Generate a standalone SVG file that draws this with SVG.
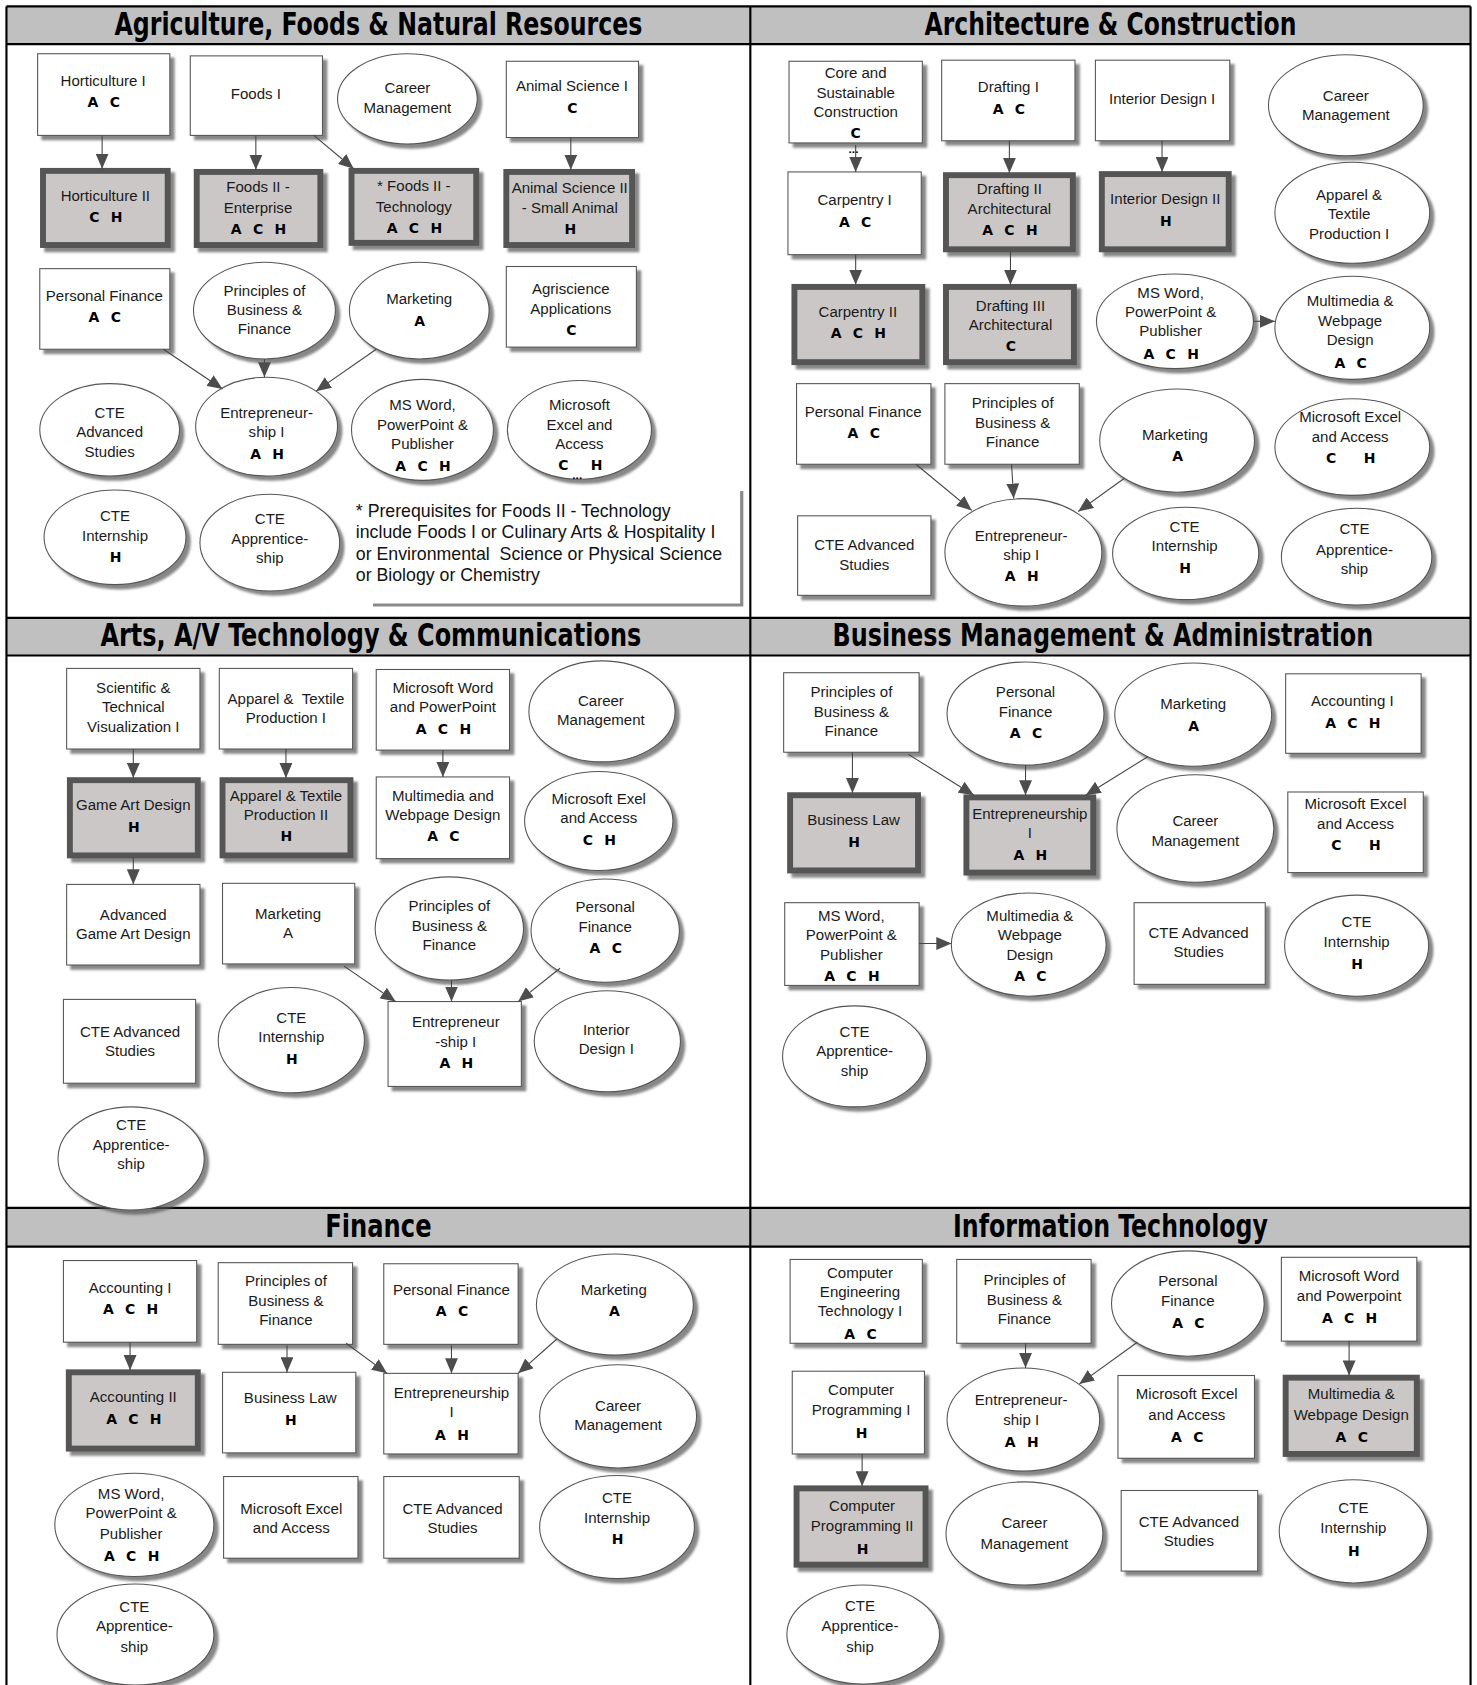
<svg xmlns="http://www.w3.org/2000/svg" width="1477" height="1685" viewBox="0 0 1477 1685">
<defs>
<filter id="sh" x="-10%" y="-10%" width="130%" height="130%">
<feDropShadow dx="4" dy="4" stdDeviation="1.2" flood-color="#555" flood-opacity="0.7"/>
</filter>
<marker id="ah" viewBox="0 0 14 12" refX="14" refY="6" markerWidth="14" markerHeight="12" markerUnits="userSpaceOnUse" orient="auto">
<path d="M0,0 L14,6 L0,12 z" fill="#4d4d4d"/>
</marker>
<style>
.box{fill:#fff;stroke:#555;stroke-width:1;filter:url(#sh)}
.gbox{fill:#cbc7c6;stroke:#555;stroke-width:5.5;filter:url(#sh)}
.ell{fill:#fff;stroke:#555;stroke-width:1;filter:url(#sh)}
.t{font-family:"Liberation Sans",Arial,sans-serif;font-size:14px;fill:#1a1a1a;text-anchor:middle}
.c{font-family:"DejaVu Sans","Liberation Sans",Arial,sans-serif;font-weight:bold;font-size:13px;letter-spacing:3px;text-anchor:middle;fill:#000;white-space:pre}
.c1{font-family:"DejaVu Sans","Liberation Sans",Arial,sans-serif;font-weight:bold;font-size:13px;text-anchor:middle;fill:#000}
.dots{font-family:"Liberation Sans",Arial,sans-serif;font-weight:bold;font-size:11px;fill:#000;text-anchor:middle}
.note{font-family:"Liberation Sans",Arial,sans-serif;font-size:16.5px;fill:#111}
.hdr{fill:#c0c0c0}
.frame{stroke:#000;stroke-width:2;fill:none}
.ttl{font-family:"Liberation Sans Narrow","DejaVu Sans Condensed","Liberation Sans",sans-serif;font-weight:bold;font-size:29px;fill:#000;text-anchor:middle}
.cn{stroke:#444;stroke-width:1;fill:none;marker-end:url(#ah)}
</style>
</defs>
<rect width="1477" height="1685" fill="#fff"/>
<g transform="scale(1.07497,1.07462)">
<g id="frame">
<rect class="hdr" x="6" y="6" width="1362" height="35"/>
<rect class="hdr" x="6" y="575" width="1362" height="35"/>
<rect class="hdr" x="6" y="1124" width="1362" height="36"/>
<path class="frame" d="M6,6 H1368 M6,41 H1368 M6,575 H1368 M6,610 H1368 M6,1124 H1368 M6,1160 H1368 M6,6 V1570 M698,6 V1570 M1368,6 V1570"/>
<text class="ttl" x="352" y="33" textLength="491" lengthAdjust="spacingAndGlyphs">Agriculture, Foods &amp; Natural Resources</text>
<text class="ttl" x="1033" y="33" textLength="346" lengthAdjust="spacingAndGlyphs">Architecture &amp; Construction</text>
<text class="ttl" x="345" y="601" textLength="503" lengthAdjust="spacingAndGlyphs">Arts, A/V Technology &amp; Communications</text>
<text class="ttl" x="1026" y="601" textLength="503" lengthAdjust="spacingAndGlyphs">Business Management &amp; Administration</text>
<text class="ttl" x="352" y="1151" textLength="99" lengthAdjust="spacingAndGlyphs">Finance</text>
<text class="ttl" x="1033" y="1151" textLength="293" lengthAdjust="spacingAndGlyphs">Information Technology</text>
</g>

<!-- Panel 1: Agriculture -->
<g id="ag_hort1"><rect class="box" x="35" y="50" width="123" height="76"/><text class="t" x="96" y="80">Horticulture I</text><text class="c" x="98" y="100">A C</text></g>
<g id="ag_foods1"><rect class="box" x="177" y="52" width="123" height="74"/><text class="t" x="238" y="92">Foods I</text></g>
<g id="ag_career"><ellipse class="ell" cx="379" cy="92" rx="65" ry="42"/><text class="t" x="379" y="87">Career</text><text class="t" x="379" y="105">Management</text></g>
<g id="ag_anim1"><rect class="box" x="471" y="57" width="123" height="71"/><text class="t" x="532" y="85">Animal Science I</text><text class="c" x="534" y="105">C</text></g>
<g id="ag_hort2"><rect class="gbox" x="40" y="159" width="116" height="69"/><text class="t" x="98" y="187">Horticulture II</text><text class="c" x="100" y="207">C H</text></g>
<g id="ag_foods2e"><rect class="gbox" x="183" y="160" width="115" height="68"/><text class="t" x="240" y="179">Foods II -</text><text class="t" x="240" y="198">Enterprise</text><text class="c" x="242" y="218">A C H</text></g>
<g id="ag_foods2t"><rect class="gbox" x="327" y="159" width="116" height="67"/><text class="t" x="385" y="178">* Foods II -</text><text class="t" x="385" y="197">Technology</text><text class="c" x="387" y="217">A C H</text></g>
<g id="ag_anim2"><rect class="gbox" x="471" y="160" width="117" height="68"/><text class="t" x="530" y="180">Animal Science II</text><text class="t" x="530" y="198">- Small Animal</text><text class="c" x="532" y="218">H</text></g>
<g id="ag_pf"><rect class="box" x="37" y="250" width="121" height="75"/><text class="t" x="97" y="280">Personal Finance</text><text class="c" x="99" y="300">A C</text></g>
<g id="ag_pbf"><ellipse class="ell" cx="246" cy="289" rx="66" ry="45"/><text class="t" x="246" y="275">Principles of</text><text class="t" x="246" y="293">Business &amp;</text><text class="t" x="246" y="311">Finance</text></g>
<g id="ag_mkt"><ellipse class="ell" cx="390" cy="289" rx="65" ry="45"/><text class="t" x="390" y="283">Marketing</text><text class="c" x="392" y="303">A</text></g>
<g id="ag_agri"><rect class="box" x="471" y="248" width="121" height="75"/><text class="t" x="531" y="274">Agriscience</text><text class="t" x="531" y="292">Applications</text><text class="c" x="533" y="312">C</text></g>
<g id="ag_cteas"><ellipse class="ell" cx="102" cy="400" rx="65" ry="43"/><text class="t" x="102" y="389">CTE</text><text class="t" x="102" y="407">Advanced</text><text class="t" x="102" y="425">Studies</text></g>
<g id="ag_ent"><ellipse class="ell" cx="248" cy="397" rx="66" ry="46"/><text class="t" x="248" y="389">Entrepreneur-</text><text class="t" x="248" y="407">ship I</text><text class="c" x="250" y="427">A H</text></g>
<g id="ag_msw"><ellipse class="ell" cx="393" cy="400" rx="66" ry="47"/><text class="t" x="393" y="382">MS Word,</text><text class="t" x="393" y="400">PowerPoint &amp;</text><text class="t" x="393" y="418">Publisher</text><text class="c" x="395" y="438">A C H</text></g>
<g id="ag_mse"><ellipse class="ell" cx="539" cy="400" rx="67" ry="46"/><text class="t" x="539" y="382">Microsoft</text><text class="t" x="539" y="400">Excel and</text><text class="t" x="539" y="418">Access</text><text class="c1" x="524" y="437">C</text><text class="c1" x="555" y="437">H</text><text class="dots" x="537" y="446">...</text></g>
<g id="ag_ctei"><ellipse class="ell" cx="107" cy="500" rx="66" ry="44"/><text class="t" x="107" y="485">CTE</text><text class="t" x="107" y="503">Internship</text><text class="c" x="109" y="523">H</text></g>
<g id="ag_ctea"><ellipse class="ell" cx="251" cy="505" rx="65" ry="45"/><text class="t" x="251" y="488">CTE</text><text class="t" x="251" y="506">Apprentice-</text><text class="t" x="251" y="524">ship</text></g>
<g id="ag_note"><path d="M690,457 V563 H347" stroke="#8a8a8a" stroke-width="3" fill="none"/><text class="note" x="331" y="481">* Prerequisites for Foods II - Technology</text><text class="note" x="331" y="501">include Foods I or Culinary Arts &amp; Hospitality I</text><text class="note" x="331" y="521" style="white-space:pre">or Environmental  Science or Physical Science</text><text class="note" x="331" y="541">or Biology or Chemistry</text></g>

<!-- Panel 2: Architecture -->
<g id="ac_core"><rect class="box" x="734" y="57" width="124" height="76"/><text class="t" x="796" y="73">Core and</text><text class="t" x="796" y="91">Sustainable</text><text class="t" x="796" y="109">Construction</text><text class="c1" x="796" y="128">C</text><text class="dots" x="794" y="142">...</text></g>
<g id="ac_dr1"><rect class="box" x="876" y="56" width="124" height="75"/><text class="t" x="938" y="86">Drafting I</text><text class="c" x="940" y="106">A C</text></g>
<g id="ac_id1"><rect class="box" x="1019" y="56" width="125" height="75"/><text class="t" x="1081" y="97">Interior Design I</text></g>
<g id="ac_career"><ellipse class="ell" cx="1252" cy="98" rx="72" ry="47"/><text class="t" x="1252" y="94">Career</text><text class="t" x="1252" y="112">Management</text></g>
<g id="ac_carp1"><rect class="box" x="733" y="160" width="124" height="77"/><text class="t" x="795" y="191">Carpentry I</text><text class="c" x="797" y="211">A C</text></g>
<g id="ac_dr2"><rect class="gbox" x="880" y="163" width="118" height="69"/><text class="t" x="939" y="181">Drafting II</text><text class="t" x="939" y="199">Architectural</text><text class="c" x="941" y="219">A C H</text></g>
<g id="ac_id2"><rect class="gbox" x="1025" y="162" width="118" height="70"/><text class="t" x="1084" y="190">Interior Design II</text><text class="c" x="1086" y="210">H</text></g>
<g id="ac_app"><ellipse class="ell" cx="1258" cy="198" rx="72" ry="47"/><text class="t" x="1255" y="186">Apparel &amp;</text><text class="t" x="1255" y="204">Textile</text><text class="t" x="1255" y="222">Production I</text></g>
<g id="ac_carp2"><rect class="gbox" x="739" y="267" width="119" height="70"/><text class="t" x="798" y="295">Carpentry II</text><text class="c" x="800" y="315">A C H</text></g>
<g id="ac_dr3"><rect class="gbox" x="880" y="267" width="119" height="70"/><text class="t" x="940" y="289">Drafting III</text><text class="t" x="940" y="307">Architectural</text><text class="c" x="942" y="327">C</text></g>
<g id="ac_msw"><ellipse class="ell" cx="1093" cy="299" rx="73" ry="44"/><text class="t" x="1089" y="277">MS Word,</text><text class="t" x="1089" y="295">PowerPoint &amp;</text><text class="t" x="1089" y="313">Publisher</text><text class="c" x="1091" y="334">A C H</text></g>
<g id="ac_mm"><ellipse class="ell" cx="1258" cy="305" rx="72" ry="48"/><text class="t" x="1256" y="285">Multimedia &amp;</text><text class="t" x="1256" y="303">Webpage</text><text class="t" x="1256" y="321">Design</text><text class="c" x="1258" y="342">A C</text></g>
<g id="ac_pf"><rect class="box" x="741" y="357" width="125" height="75"/><text class="t" x="803" y="388">Personal Finance</text><text class="c" x="805" y="408">A C</text></g>
<g id="ac_pbf"><rect class="box" x="879" y="357" width="125" height="75"/><text class="t" x="942" y="380">Principles of</text><text class="t" x="942" y="398">Business &amp;</text><text class="t" x="942" y="416">Finance</text></g>
<g id="ac_mkt"><ellipse class="ell" cx="1095" cy="410" rx="72" ry="48"/><text class="t" x="1093" y="409">Marketing</text><text class="c" x="1097" y="429">A</text></g>
<g id="ac_mse"><ellipse class="ell" cx="1258" cy="416" rx="72" ry="45"/><text class="t" x="1256" y="393">Microsoft Excel</text><text class="t" x="1256" y="411">and Access</text><text class="c" x="1258" y="431">C   H</text></g>
<g id="ac_cteas"><rect class="box" x="742" y="480" width="124" height="74"/><text class="t" x="804" y="512">CTE Advanced</text><text class="t" x="804" y="530">Studies</text></g>
<g id="ac_ent"><ellipse class="ell" cx="952" cy="514" rx="73" ry="50"/><text class="t" x="950" y="503">Entrepreneur-</text><text class="t" x="950" y="521">ship I</text><text class="c" x="952" y="541">A H</text></g>
<g id="ac_ctei"><ellipse class="ell" cx="1103" cy="515" rx="68" ry="43"/><text class="t" x="1102" y="495">CTE</text><text class="t" x="1102" y="513">Internship</text><text class="c" x="1104" y="533">H</text></g>
<g id="ac_ctea"><ellipse class="ell" cx="1262" cy="518" rx="70" ry="45"/><text class="t" x="1260" y="497">CTE</text><text class="t" x="1260" y="516">Apprentice-</text><text class="t" x="1260" y="534">ship</text></g>

<!-- Panel 3: Arts -->
<g id="ar_sci"><rect class="box" x="62" y="622" width="124" height="75"/><text class="t" x="124" y="645">Scientific &amp;</text><text class="t" x="124" y="663">Technical</text><text class="t" x="124" y="681">Visualization I</text></g>
<g id="ar_app1"><rect class="box" x="204" y="622" width="124" height="75"/><text class="t" x="266" y="655" style="white-space:pre">Apparel &amp;  Textile</text><text class="t" x="266" y="673">Production I</text></g>
<g id="ar_msw"><rect class="box" x="350" y="623" width="124" height="75"/><text class="t" x="412" y="645">Microsoft Word</text><text class="t" x="412" y="663">and PowerPoint</text><text class="c" x="414" y="683">A C H</text></g>
<g id="ar_career"><ellipse class="ell" cx="560" cy="662" rx="68" ry="47"/><text class="t" x="559" y="657">Career</text><text class="t" x="559" y="675">Management</text></g>
<g id="ar_game"><rect class="gbox" x="65" y="726" width="119" height="70"/><text class="t" x="124" y="754">Game Art Design</text><text class="c" x="126" y="774">H</text></g>
<g id="ar_app2"><rect class="gbox" x="207" y="726" width="119" height="70"/><text class="t" x="266" y="745">Apparel &amp; Textile</text><text class="t" x="266" y="763">Production II</text><text class="c" x="268" y="783">H</text></g>
<g id="ar_mm"><rect class="box" x="350" y="723" width="124" height="76"/><text class="t" x="412" y="745">Multimedia and</text><text class="t" x="412" y="763">Webpage Design</text><text class="c" x="414" y="783">A C</text></g>
<g id="ar_mse"><ellipse class="ell" cx="557" cy="764" rx="69" ry="46"/><text class="t" x="557" y="748">Microsoft Exel</text><text class="t" x="557" y="766">and Access</text><text class="c" x="559" y="786">C H</text></g>
<g id="ar_agad"><rect class="box" x="62" y="823" width="124" height="75"/><text class="t" x="124" y="856">Advanced</text><text class="t" x="124" y="874">Game Art Design</text></g>
<g id="ar_mkt"><rect class="box" x="207" y="822" width="123" height="75"/><text class="t" x="268" y="855">Marketing</text><text class="t" x="268" y="873">A</text></g>
<g id="ar_pbf"><ellipse class="ell" cx="418" cy="864" rx="69" ry="48"/><text class="t" x="418" y="848">Principles of</text><text class="t" x="418" y="866">Business &amp;</text><text class="t" x="418" y="884">Finance</text></g>
<g id="ar_pf"><ellipse class="ell" cx="563" cy="866" rx="69" ry="48"/><text class="t" x="563" y="849">Personal</text><text class="t" x="563" y="867">Finance</text><text class="c" x="565" y="887">A C</text></g>
<g id="ar_cteas"><rect class="box" x="59" y="930" width="123" height="78"/><text class="t" x="121" y="965">CTE Advanced</text><text class="t" x="121" y="983">Studies</text></g>
<g id="ar_ctei"><ellipse class="ell" cx="271" cy="968" rx="68" ry="49"/><text class="t" x="271" y="952">CTE</text><text class="t" x="271" y="970">Internship</text><text class="c" x="273" y="990">H</text></g>
<g id="ar_ent"><rect class="box" x="361" y="932" width="124" height="79"/><text class="t" x="424" y="956">Entrepreneur</text><text class="t" x="424" y="974">-ship I</text><text class="c" x="426" y="994">A H</text></g>
<g id="ar_id"><ellipse class="ell" cx="565" cy="969" rx="68" ry="47"/><text class="t" x="564" y="963">Interior</text><text class="t" x="564" y="981">Design I</text></g>
<g id="ar_ctea"><ellipse class="ell" cx="122" cy="1078" rx="68" ry="48"/><text class="t" x="122" y="1052">CTE</text><text class="t" x="122" y="1070">Apprentice-</text><text class="t" x="122" y="1088">ship</text></g>

<!-- Panel 4: Business Management -->
<g id="bm_pbf"><rect class="box" x="729" y="626" width="126" height="74"/><text class="t" x="792" y="649">Principles of</text><text class="t" x="792" y="667">Business &amp;</text><text class="t" x="792" y="685">Finance</text></g>
<g id="bm_pf"><ellipse class="ell" cx="954" cy="664" rx="73" ry="48"/><text class="t" x="954" y="649">Personal</text><text class="t" x="954" y="667">Finance</text><text class="c" x="956" y="687">A C</text></g>
<g id="bm_mkt"><ellipse class="ell" cx="1110" cy="665" rx="73" ry="48"/><text class="t" x="1110" y="660">Marketing</text><text class="c" x="1112" y="680">A</text></g>
<g id="bm_acc1"><rect class="box" x="1196" y="627" width="126" height="74"/><text class="t" x="1258" y="657">Accounting I</text><text class="c" x="1260" y="677">A C H</text></g>
<g id="bm_law"><rect class="gbox" x="735" y="740" width="119" height="70"/><text class="t" x="794" y="768">Business Law</text><text class="c" x="796" y="788">H</text></g>
<g id="bm_ent"><rect class="gbox" x="899" y="742" width="118" height="70"/><text class="t" x="958" y="762">Entrepreneurship</text><text class="t" x="958" y="780">I</text><text class="c" x="960" y="800">A H</text></g>
<g id="bm_career"><ellipse class="ell" cx="1112" cy="771" rx="73" ry="50"/><text class="t" x="1112" y="769">Career</text><text class="t" x="1112" y="787">Management</text></g>
<g id="bm_mse"><rect class="box" x="1198" y="737" width="126" height="75"/><text class="t" x="1261" y="753">Microsoft Excel</text><text class="t" x="1261" y="771">and Access</text><text class="c" x="1263" y="791">C   H</text></g>
<g id="bm_msw"><rect class="box" x="730" y="840" width="125" height="77"/><text class="t" x="792" y="857">MS Word,</text><text class="t" x="792" y="875">PowerPoint &amp;</text><text class="t" x="792" y="893">Publisher</text><text class="c" x="794" y="913">A C H</text></g>
<g id="bm_mm"><ellipse class="ell" cx="957" cy="879" rx="72" ry="48"/><text class="t" x="958" y="857">Multimedia &amp;</text><text class="t" x="958" y="875">Webpage</text><text class="t" x="958" y="893">Design</text><text class="c" x="960" y="913">A C</text></g>
<g id="bm_cteas"><rect class="box" x="1055" y="840" width="122" height="76"/><text class="t" x="1115" y="873">CTE Advanced</text><text class="t" x="1115" y="891">Studies</text></g>
<g id="bm_ctei"><ellipse class="ell" cx="1262" cy="880" rx="67" ry="47"/><text class="t" x="1262" y="863">CTE</text><text class="t" x="1262" y="881">Internship</text><text class="c" x="1264" y="902">H</text></g>
<g id="bm_ctea"><ellipse class="ell" cx="795" cy="983" rx="67" ry="47"/><text class="t" x="795" y="965">CTE</text><text class="t" x="795" y="983">Apprentice-</text><text class="t" x="795" y="1001">ship</text></g>

<!-- Panel 5: Finance -->
<g id="fi_acc1"><rect class="box" x="59" y="1173" width="124" height="76"/><text class="t" x="121" y="1203">Accounting I</text><text class="c" x="123" y="1223">A C H</text></g>
<g id="fi_pbf"><rect class="box" x="203" y="1175" width="125" height="76"/><text class="t" x="266" y="1197">Principles of</text><text class="t" x="266" y="1215">Business &amp;</text><text class="t" x="266" y="1233">Finance</text></g>
<g id="fi_pf"><rect class="box" x="357" y="1176" width="125" height="75"/><text class="t" x="420" y="1205">Personal Finance</text><text class="c" x="422" y="1225">A C</text></g>
<g id="fi_mkt"><ellipse class="ell" cx="572" cy="1214" rx="73" ry="47"/><text class="t" x="571" y="1205">Marketing</text><text class="c" x="573" y="1225">A</text></g>
<g id="fi_acc2"><rect class="gbox" x="64" y="1277" width="120" height="71"/><text class="t" x="124" y="1305">Accounting II</text><text class="c" x="126" y="1325">A C H</text></g>
<g id="fi_law"><rect class="box" x="207" y="1277" width="124" height="75"/><text class="t" x="270" y="1306">Business Law</text><text class="c" x="272" y="1326">H</text></g>
<g id="fi_ent"><rect class="box" x="357" y="1278" width="125" height="75"/><text class="t" x="420" y="1301">Entrepreneurship</text><text class="t" x="420" y="1319">I</text><text class="c" x="422" y="1340">A H</text></g>
<g id="fi_career"><ellipse class="ell" cx="575" cy="1318" rx="73" ry="48"/><text class="t" x="575" y="1313">Career</text><text class="t" x="575" y="1331">Management</text></g>
<g id="fi_msw"><ellipse class="ell" cx="125" cy="1419" rx="74" ry="48"/><text class="t" x="122" y="1395">MS Word,</text><text class="t" x="122" y="1413">PowerPoint &amp;</text><text class="t" x="122" y="1432">Publisher</text><text class="c" x="124" y="1453">A C H</text></g>
<g id="fi_mse"><rect class="box" x="208" y="1374" width="125" height="76"/><text class="t" x="271" y="1409">Microsoft Excel</text><text class="t" x="271" y="1427">and Access</text></g>
<g id="fi_cteas"><rect class="box" x="357" y="1374" width="126" height="76"/><text class="t" x="421" y="1409">CTE Advanced</text><text class="t" x="421" y="1427">Studies</text></g>
<g id="fi_ctei"><ellipse class="ell" cx="574" cy="1421" rx="72" ry="48"/><text class="t" x="574" y="1399">CTE</text><text class="t" x="574" y="1417">Internship</text><text class="c" x="576" y="1437">H</text></g>
<g id="fi_ctea"><ellipse class="ell" cx="126" cy="1521" rx="73" ry="47"/><text class="t" x="125" y="1500">CTE</text><text class="t" x="125" y="1518">Apprentice-</text><text class="t" x="125" y="1537">ship</text></g>

<!-- Panel 6: Information Technology -->
<g id="it_cet"><rect class="box" x="735" y="1172" width="123" height="78"/><text class="t" x="800" y="1189">Computer</text><text class="t" x="800" y="1207">Engineering</text><text class="t" x="800" y="1225">Technology I</text><text class="c" x="802" y="1246">A C</text></g>
<g id="it_pbf"><rect class="box" x="890" y="1172" width="125" height="78"/><text class="t" x="953" y="1196">Principles of</text><text class="t" x="953" y="1214">Business &amp;</text><text class="t" x="953" y="1232">Finance</text></g>
<g id="it_pf"><ellipse class="ell" cx="1105" cy="1213" rx="71" ry="49"/><text class="t" x="1105" y="1197">Personal</text><text class="t" x="1105" y="1215">Finance</text><text class="c" x="1107" y="1236">A C</text></g>
<g id="it_msw"><rect class="box" x="1192" y="1170" width="126" height="78"/><text class="t" x="1255" y="1192">Microsoft Word</text><text class="t" x="1255" y="1211">and Powerpoint</text><text class="c" x="1257" y="1231">A C H</text></g>
<g id="it_cp1"><rect class="box" x="737" y="1276" width="123" height="77"/><text class="t" x="801" y="1298">Computer</text><text class="t" x="801" y="1317">Programming I</text><text class="c" x="803" y="1338">H</text></g>
<g id="it_ent"><ellipse class="ell" cx="952" cy="1321" rx="71" ry="48"/><text class="t" x="950" y="1307">Entrepreneur-</text><text class="t" x="950" y="1326">ship I</text><text class="c" x="952" y="1347">A H</text></g>
<g id="it_mse"><rect class="box" x="1040" y="1280" width="127" height="77"/><text class="t" x="1104" y="1302">Microsoft Excel</text><text class="t" x="1104" y="1321">and Access</text><text class="c" x="1106" y="1342">A C</text></g>
<g id="it_mm"><rect class="gbox" x="1196" y="1282" width="122" height="71"/><text class="t" x="1257" y="1302">Multimedia &amp;</text><text class="t" x="1257" y="1321">Webpage Design</text><text class="c" x="1259" y="1342">A C</text></g>
<g id="it_cp2"><rect class="gbox" x="741" y="1385" width="120" height="71"/><text class="t" x="802" y="1406">Computer</text><text class="t" x="802" y="1425">Programming II</text><text class="c" x="804" y="1446">H</text></g>
<g id="it_career"><ellipse class="ell" cx="953" cy="1427" rx="73" ry="48"/><text class="t" x="953" y="1422">Career</text><text class="t" x="953" y="1441">Management</text></g>
<g id="it_cteas"><rect class="box" x="1043" y="1387" width="127" height="75"/><text class="t" x="1106" y="1421">CTE Advanced</text><text class="t" x="1106" y="1439">Studies</text></g>
<g id="it_ctei"><ellipse class="ell" cx="1259" cy="1425" rx="69" ry="48"/><text class="t" x="1259" y="1408">CTE</text><text class="t" x="1259" y="1427">Internship</text><text class="c" x="1261" y="1448">H</text></g>
<g id="it_ctea"><ellipse class="ell" cx="803" cy="1521" rx="71" ry="46"/><text class="t" x="800" y="1499">CTE</text><text class="t" x="800" y="1518">Apprentice-</text><text class="t" x="800" y="1537">ship</text></g>

<g id="connectors">
<line class="cn" x1="95" y1="126" x2="95" y2="157"/>
<line class="cn" x1="238" y1="126" x2="238" y2="158"/>
<line class="cn" x1="292" y1="126" x2="329" y2="157"/>
<line class="cn" x1="531" y1="128" x2="531" y2="158"/>
<line class="cn" x1="152" y1="325" x2="207" y2="362"/>
<line class="cn" x1="246" y1="334" x2="246" y2="351"/>
<line class="cn" x1="350" y1="325" x2="294" y2="364"/>

<line class="cn" x1="796" y1="135" x2="796" y2="160"/>
<line class="cn" x1="939" y1="131" x2="939" y2="161"/>
<line class="cn" x1="1081" y1="131" x2="1081" y2="160"/>
<line class="cn" x1="796" y1="237" x2="796" y2="265"/>
<line class="cn" x1="940" y1="234" x2="940" y2="265"/>
<line class="cn" x1="1166" y1="299" x2="1186" y2="299"/>
<line class="cn" x1="852" y1="432" x2="904" y2="475"/>
<line class="cn" x1="941" y1="432" x2="943" y2="464"/>
<line class="cn" x1="1046" y1="445" x2="1003" y2="476"/>

<line class="cn" x1="124" y1="697" x2="124" y2="724"/>
<line class="cn" x1="266" y1="697" x2="266" y2="724"/>
<line class="cn" x1="412" y1="698" x2="412" y2="723"/>
<line class="cn" x1="124" y1="798" x2="124" y2="823"/>
<line class="cn" x1="320" y1="899" x2="368" y2="932"/>
<line class="cn" x1="420" y1="912" x2="420" y2="932"/>
<line class="cn" x1="521" y1="901" x2="482" y2="932"/>

<line class="cn" x1="793" y1="700" x2="793" y2="738"/>
<line class="cn" x1="845" y1="702" x2="906" y2="740"/>
<line class="cn" x1="954" y1="712" x2="954" y2="740"/>
<line class="cn" x1="1068" y1="704" x2="1010" y2="740"/>
<line class="cn" x1="855" y1="878" x2="885" y2="878"/>

<line class="cn" x1="121" y1="1249" x2="121" y2="1275"/>
<line class="cn" x1="267" y1="1252" x2="267" y2="1277"/>
<line class="cn" x1="322" y1="1250" x2="360" y2="1278"/>
<line class="cn" x1="420" y1="1252" x2="420" y2="1278"/>
<line class="cn" x1="518" y1="1246" x2="482" y2="1278"/>

<line class="cn" x1="954" y1="1250" x2="954" y2="1273"/>
<line class="cn" x1="1058" y1="1249" x2="1004" y2="1288"/>
<line class="cn" x1="1255" y1="1248" x2="1255" y2="1280"/>
<line class="cn" x1="802" y1="1353" x2="802" y2="1383"/>
</g>
</g>
</svg>
